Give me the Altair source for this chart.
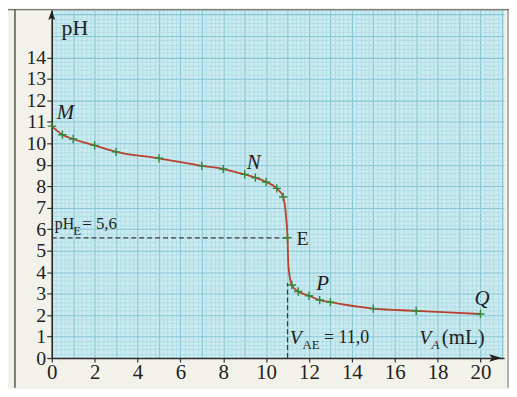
import altair as alt
import pandas as pd

# measured titration points (green + markers)
vol = [0, 0.5, 1, 2, 3, 5, 7, 8, 9, 9.5, 10, 10.5, 10.8, 11, 11.2, 11.5, 12, 12.5, 13, 15, 17, 20]
ph = [10.8, 10.4, 10.2, 9.9, 9.6, 9.3, 8.95, 8.8, 8.55, 8.4, 8.2, 7.9, 7.5, 5.6, 3.4, 3.1, 2.9, 2.7, 2.6, 2.3, 2.2, 2.05]

curve_v = [0, 0.5, 1, 2, 3, 5, 7, 8, 9, 9.5, 10, 10.5, 10.8, 10.93, 11, 11.04, 11.2, 11.5, 12, 12.5, 13, 15, 17, 20]
curve_ph = [10.8, 10.4, 10.2, 9.9, 9.6, 9.3, 8.95, 8.8, 8.55, 8.4, 8.2, 7.9, 7.5, 6.6, 5.6, 4.3, 3.4, 3.1, 2.9, 2.7, 2.6, 2.3, 2.2, 2.05]

# equivalence point
eq_v = [11.0]
eq_ph = [5.6]
eq_vline_top = [3.5]

# point labels (italic)
lab_text = ["M", "N", "P", "Q"]
lab_v = [0.23, 9.1, 12.34, 19.72]
lab_ph = [11.39, 9.1, 3.43, 2.73]

# upright annotations
up_text = ["pH", "E", "pH", "= 5,6", "= 11,0", "(mL)"]
up_v = [0.46, 11.42, 0.14, 1.42, 12.7, 18.2]
up_ph = [15.38, 5.53, 6.23, 6.23, 0.93, 0.93]
up_size = [22, 20, 16, 17, 18, 21]

# subscripts
sub_text = ["E", "AE"]
sub_v = [1.0, 11.7]
sub_ph = [5.93, 0.62]
subi_text = ["A"]
subi_v = [17.72]
subi_ph = [0.62]

# italic V's
vi_text = ["V", "V"]
vi_v = [11.1, 17.14]
vi_ph = [0.93, 0.93]

XMAX = 21.1
YMAX = 16.2
xgrid = [round(i * 0.2, 1) for i in range(0, 106)]
ygrid = [round(i * 0.2, 1) for i in range(0, 82)]

FONT = "Liberation Serif"
MAJ = "#86c6d5"
MIN = "#a9dae4"

xs = alt.Scale(domain=[0, XMAX], nice=False, zero=False)
ys = alt.Scale(domain=[0, YMAX], nice=False, zero=False)

x_axis = alt.Axis(
    values=xgrid, title=None, grid=True,
    gridColor={"condition": {"test": "datum.value % 1 === 0", "value": MAJ}, "value": MIN},
    gridWidth={"condition": {"test": "datum.value % 1 === 0", "value": 1.1}, "value": 0.7},
    labelExpr="datum.value % 2 === 0 && datum.value <= 20 ? '' + datum.value : ''",
    labelOverlap=False, labelFlush=False, labelFont=FONT, labelFontSize=21,
    labelColor="#222", labelPadding=0,
    tickOpacity={"condition": {"test": "datum.value % 2 === 0 && datum.value <= 20", "value": 1}, "value": 0},
    tickColor="#333", tickSize=4, tickWidth=1.2,
    domainColor="#2a2a2a", domainWidth=1.6,
)
y_axis = alt.Axis(
    values=ygrid, title=None, grid=True,
    gridColor={"condition": {"test": "datum.value % 1 === 0", "value": MAJ}, "value": MIN},
    gridWidth={"condition": {"test": "datum.value % 1 === 0", "value": 1.1}, "value": 0.7},
    labelExpr="datum.value % 1 === 0 && datum.value <= 14 ? '' + datum.value : ''",
    labelOverlap=False, labelFlush=False, labelFont=FONT, labelFontSize=20,
    labelColor="#222", labelPadding=1,
    tickOpacity={"condition": {"test": "datum.value % 1 === 0 && datum.value <= 14", "value": 1}, "value": 0},
    tickColor="#333", tickSize=5, tickWidth=1.2,
    domainColor="#2a2a2a", domainWidth=1.6,
)

X = lambda f: alt.X(f, scale=xs, axis=x_axis)
Y = lambda f: alt.Y(f, scale=ys, axis=y_axis)

pts = pd.DataFrame({"v": vol, "ph": ph})
curve = pd.DataFrame({"v": curve_v, "ph": curve_ph})

line = alt.Chart(curve).mark_line(interpolate="monotone", color="#b8412c", strokeWidth=1.8).encode(
    x=X("v:Q"), y=Y("ph:Q"),
)

markers = alt.Chart(pts).mark_point(
    shape="M-1,0L1,0M0,-1L0,1", filled=False, color="#2f8a3a", strokeWidth=1.4, size=70, opacity=1
).encode(x=X("v:Q"), y=Y("ph:Q"))

eq = pd.DataFrame({"v": eq_v, "ph": eq_ph, "zero": [0], "top": eq_vline_top})
hline = alt.Chart(eq).mark_rule(color="#3a3a3a", strokeWidth=1.3, strokeDash=[5, 3]).encode(
    x=X("zero:Q"), x2="v:Q", y=Y("ph:Q"),
)
vline = alt.Chart(eq).mark_rule(color="#3a3a3a", strokeWidth=1.3, strokeDash=[5, 3]).encode(
    x=X("v:Q"), y=Y("zero:Q"), y2="top:Q",
)

def text_layer(texts, xv, yv, size, style="normal", sizes=None):
    df = pd.DataFrame({"t": texts, "v": xv, "ph": yv})
    enc = dict(x=X("v:Q"), y=Y("ph:Q"), text="t:N")
    if sizes is not None:
        df["s"] = sizes
        enc["size"] = alt.Size("s:Q", scale=None, legend=None)
    return alt.Chart(df).mark_text(
        font=FONT, fontSize=size, fontStyle=style, align="left", baseline="middle", color="#1e1e1e"
    ).encode(**enc)

labels_it = text_layer(lab_text, lab_v, lab_ph, 21, "italic")
labels_up = text_layer(up_text, up_v, up_ph, 19, "normal", up_size)
labels_sub = text_layer(sub_text, sub_v, sub_ph, 13, "normal")
labels_subi = text_layer(subi_text, subi_v, subi_ph, 13, "italic")
labels_vi = text_layer(vi_text, vi_v, vi_ph, 20, "italic")

# axis arrow heads
arr_up = alt.Chart(pd.DataFrame({"v": [0], "ph": [YMAX]})).mark_point(
    shape="M0,0L0.7,2L0,1.6L-0.7,2Z", filled=True, color="#222", size=100, opacity=1
).encode(x=X("v:Q"), y=Y("ph:Q"))
arr_right = alt.Chart(pd.DataFrame({"v": [21.0], "ph": [0]})).mark_point(
    shape="M0,0L-2,-0.6L-1.6,0L-2,0.6Z", filled=True, color="#222", size=160, opacity=1
).encode(x=X("v:Q"), y=Y("ph:Q"))

# page frame
frame_left = alt.Chart(pd.DataFrame({"a": [0]})).mark_rule(color="#555", strokeWidth=1.5).encode(
    x=alt.value(-37), y=alt.value(-1), y2=alt.value(380))
frame_right = alt.Chart(pd.DataFrame({"a": [0]})).mark_rule(color="#9a9a9a", strokeWidth=1.5).encode(
    x=alt.value(459), y=alt.value(-1), y2=alt.value(380))
frame_top = alt.Chart(pd.DataFrame({"a": [0]})).mark_rule(color="#555", strokeWidth=1.2).encode(
    x=alt.value(-44), x2=alt.value(460), y=alt.value(-0.4))

chart = alt.layer(
    line, hline, vline, markers, labels_it, labels_up, labels_sub, labels_subi, labels_vi,
    arr_up, arr_right, frame_left, frame_right, frame_top,
).properties(
    width=455, height=350,
    autosize=alt.AutoSizeParams(type="none"),
    padding={"left": 44, "top": 1, "right": 5, "bottom": 30},
    background="#f3f2ea",
).configure_view(fill="#cbebf0", stroke=None)

chart.save("out.html", embed_options={"renderer": "svg", "actions": False})
